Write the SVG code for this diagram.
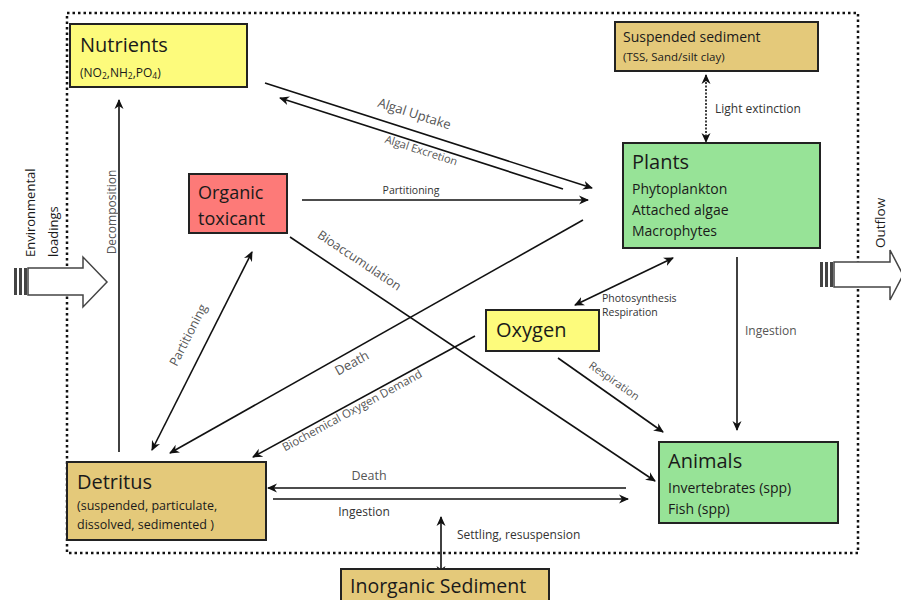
<svg xmlns="http://www.w3.org/2000/svg" width="901" height="600" viewBox="0 0 901 600">
<defs>
<marker id="ah" viewBox="0 0 10 10" refX="9" refY="5" markerWidth="10" markerHeight="10" markerUnits="userSpaceOnUse" orient="auto-start-reverse">
<path d="M0,0.5 L10,5 L0,9.5 L3,5 z" fill="#111"/>
</marker>
<style>
.box{stroke:#222;stroke-width:2}
.yel{fill:#fdfb7c}
.tan{fill:#e4c97a}
.grn{fill:#97e397}
.red{fill:#fd7a78}
.t{font-family:"Open Sans","Liberation Sans",sans-serif;fill:#1a1a1a}
.big{font-size:20px}
.sm{font-size:14px}
.lab{font-family:"Open Sans","Liberation Sans",sans-serif;font-size:12px;fill:#555}
.c{stroke:#111;stroke-width:1.6;fill:none}
.blk{fill:#fff;stroke:#444;stroke-width:1.5}
</style>
</defs>
<rect id="boundary" x="67" y="13" width="791" height="540" fill="none" stroke="#111" stroke-width="2.5" stroke-dasharray="2.5 3"/>

<g id="connectors">
<line class="c" x1="265" y1="83" x2="592" y2="188" marker-end="url(#ah)"/>
<line class="c" x1="563" y1="189" x2="280" y2="98" marker-end="url(#ah)"/>
<line class="c" x1="302" y1="200" x2="588" y2="200" marker-end="url(#ah)"/>
<line class="c" x1="583" y1="220" x2="170" y2="453" marker-end="url(#ah)"/>
<line class="c" x1="152" y1="450" x2="252" y2="252" marker-start="url(#ah)" marker-end="url(#ah)"/>
<line class="c" x1="290" y1="237" x2="655" y2="481" marker-end="url(#ah)"/>
<line class="c" x1="475" y1="336" x2="253" y2="457" marker-end="url(#ah)"/>
<line class="c" x1="558" y1="358" x2="663" y2="432" marker-end="url(#ah)"/>
<line class="c" x1="575" y1="305" x2="673" y2="258" marker-start="url(#ah)" marker-end="url(#ah)"/>
<line class="c" x1="737" y1="257" x2="737" y2="430" stroke="#333" marker-end="url(#ah)"/>
<line class="c" x1="626" y1="488" x2="268" y2="488" marker-end="url(#ah)"/>
<line class="c" x1="273" y1="499" x2="628" y2="499" marker-end="url(#ah)"/>
<line class="c" x1="119" y1="452" x2="119" y2="100" marker-end="url(#ah)"/>
<line class="c" x1="706" y1="75" x2="706" y2="142" stroke-dasharray="2 1.5" stroke-width="1.3" marker-start="url(#ah)" marker-end="url(#ah)"/>
<line class="c" x1="441" y1="517" x2="441" y2="575" stroke="#666" stroke-width="1.3" marker-start="url(#ah)" marker-end="url(#ah)"/>

<text class="lab" transform="translate(413,118) rotate(17.8)" text-anchor="middle" style="font-size:13px">Algal Uptake</text>
<text class="lab" transform="translate(420,154) rotate(17.8)" text-anchor="middle" style="font-size:11px">Algal Excretion</text>
<text class="lab" x="411" y="194" text-anchor="middle" style="font-size:10.5px;fill:#333">Partitioning</text>
<text class="lab" transform="translate(354,367) rotate(-29)" text-anchor="middle" style="font-size:13px">Death</text>
<text class="lab" transform="translate(192,337) rotate(-63)" text-anchor="middle" style="font-size:12.5px">Partitioning</text>
<text class="lab" transform="translate(357,264) rotate(33.7)" text-anchor="middle" style="font-size:12.5px">Bioaccumulation</text>
<text class="lab" transform="translate(354,414) rotate(-28.6)" text-anchor="middle" style="font-size:11.5px">Biochemical Oxygen Demand</text>
<text class="lab" transform="translate(612,384) rotate(35)" text-anchor="middle" style="font-size:11px">Respiration</text>
<text class="lab" x="602" y="302" style="font-size:10.5px;fill:#333">Photosynthesis</text>
<text class="lab" x="602" y="316" style="font-size:10.5px;fill:#333">Respiration</text>
<text class="lab" x="745" y="335">Ingestion</text>
<text class="lab" x="369" y="480" text-anchor="middle" style="font-size:12.5px">Death</text>
<text class="lab" x="364" y="516" text-anchor="middle" style="fill:#333">Ingestion</text>
<text class="lab" transform="translate(116,212) rotate(-90)" text-anchor="middle">Decomposition</text>
<text class="lab" x="715" y="113" style="fill:#333">Light extinction</text>
<text class="lab" x="457" y="539" style="fill:#333">Settling, resuspension</text>
</g>

<g id="nutrients">
<rect class="box yel" x="70" y="24" width="177" height="63"/>
<text class="t big" x="80" y="52">Nutrients</text>
<text class="t" x="80" y="77" style="font-size:12px">(NO<tspan font-size="8.5" dy="2">2</tspan><tspan dy="-2">,NH</tspan><tspan font-size="8.5" dy="2">2</tspan><tspan dy="-2">,PO</tspan><tspan font-size="8.5" dy="2">4</tspan><tspan dy="-2">)</tspan></text>
</g>

<g id="suspended-sediment">
<rect class="box tan" x="615" y="22" width="203" height="49"/>
<text class="t" x="623" y="42" style="font-size:14px">Suspended sediment</text>
<text class="t" x="623" y="61" style="font-size:11.5px">(TSS, Sand/silt clay)</text>
</g>

<g id="plants">
<rect class="box grn" x="623" y="143" width="197" height="105"/>
<text class="t big" x="632" y="169">Plants</text>
<text class="t sm" x="632" y="194">Phytoplankton</text>
<text class="t sm" x="632" y="215">Attached algae</text>
<text class="t sm" x="632" y="236">Macrophytes</text>
</g>

<g id="organic-toxicant">
<rect class="box red" x="189" y="174" width="98" height="59"/>
<text class="t" x="198" y="199" style="font-size:18px">Organic</text>
<text class="t" x="198" y="225" style="font-size:18px">toxicant</text>
</g>

<g id="oxygen">
<rect class="box yel" x="486" y="310" width="113" height="41"/>
<text class="t big" x="496" y="337">Oxygen</text>
</g>

<g id="detritus">
<rect class="box tan" x="67" y="462" width="199" height="78"/>
<text class="t big" x="77" y="489">Detritus</text>
<text class="t" x="77" y="510" style="font-size:12.5px">(suspended, particulate,</text>
<text class="t" x="77" y="529" style="font-size:12.5px">dissolved, sedimented )</text>
</g>

<g id="animals">
<rect class="box grn" x="659" y="442" width="179" height="81"/>
<text class="t big" x="668" y="468">Animals</text>
<text class="t sm" x="668" y="493">Invertebrates (spp)</text>
<text class="t sm" x="668" y="514">Fish (spp)</text>
</g>

<g id="inorganic-sediment">
<rect class="box tan" x="341" y="569" width="208" height="40"/>
<text class="t" x="350" y="593" style="font-size:19.5px">Inorganic Sediment</text>
</g>

<g id="environmental-loadings">
<rect x="14" y="268" width="3" height="27" fill="#444"/>
<rect x="19" y="268" width="3" height="27" fill="#444"/>
<rect x="24" y="268" width="3" height="27" fill="#444"/>
<polygon class="blk" points="28,268 83,268 83,257 107,282 83,307 83,295 28,295"/>
<text class="t" transform="translate(35,257) rotate(-90)" style="font-size:13px">Environmental</text>
<text class="t" transform="translate(58,257) rotate(-90)" style="font-size:13px">loadings</text>
</g>

<g id="outflow">
<rect x="820" y="262" width="3" height="25" fill="#444"/>
<rect x="825" y="262" width="3" height="25" fill="#444"/>
<rect x="830" y="262" width="3" height="25" fill="#444"/>
<polygon class="blk" points="834,262 890,262 890,250 903,275 890,300 890,287 834,287"/>
<text class="t" transform="translate(885,248) rotate(-90)" style="font-size:13.5px">Outflow</text>
</g>
</svg>
